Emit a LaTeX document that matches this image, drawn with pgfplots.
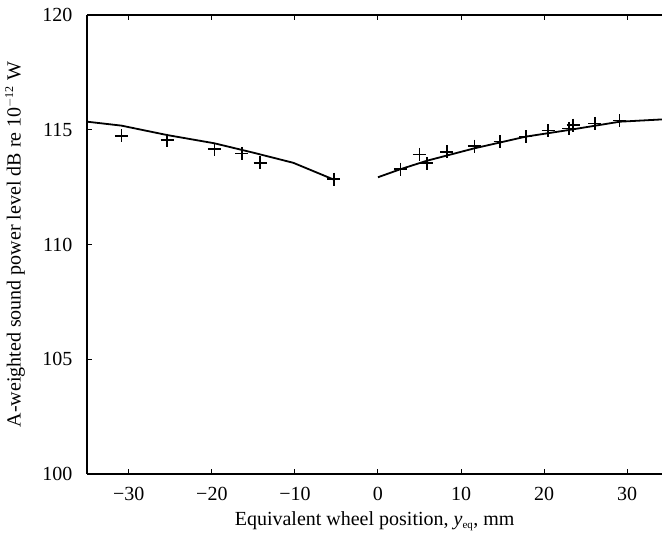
\documentclass[border=0pt]{standalone}
\usepackage{pgfplots}
\pgfplotsset{compat=1.18}
\usepackage{fontspec}
\setmainfont{Liberation Serif}
\begin{document}
\fontsize{20}{24}\selectfont
\begin{tikzpicture}
\path[use as bounding box] (-87.3pt,-61pt) rectangle (574.7pt,474pt);
\begin{axis}[
  scale only axis,
  width=574.7pt, height=459pt,
  xmin=-35, xmax=34.2,
  ymin=100, ymax=120,
  axis x line=box,
  axis y line=left,
  axis line style={line width=1.6pt, -},
  tick align=inside,
  major tick length=5pt,
  tick style={line width=1pt, black},
  xtick={-30,-20,...,30},
  xticklabels={−30,−20,−10,0,10,20,30},
  ytick={100,105,...,120},
  yticklabels={100,105,110,115,120},
  ticklabel style={font=\fontsize{20}{24}\selectfont},
  xticklabel style={yshift=-6pt},
  yticklabel style={xshift=-8pt},
  label style={font=\fontsize{20}{24}\selectfont},
  xlabel={Equivalent wheel position, \textit{y}\textsubscript{\fontsize{11}{12}\selectfont eq}, mm},
  ylabel={A-weighted sound power level dB re 10\textsuperscript{\fontsize{12}{12}\selectfont $-$12} W},
  xlabel style={yshift=2pt},
  ylabel style={yshift=4pt},
  clip=false,
]
\addplot[black, line width=1.8pt] coordinates {
(-35,115.35) (-30.9,115.18) (-25.4,114.77) (-19.7,114.41) (-15,114.0) (-10.2,113.56) (-5.4,112.84)
};
\addplot[black, line width=1.8pt] coordinates {
(0,112.93) (2.7,113.28) (5.9,113.65) (11.6,114.19) (17.8,114.70) (23.0,114.99) (29.1,115.35) (34.2,115.45)
};
\addplot[black, only marks, mark=+, mark size=6.5pt, mark options={line width=1.6pt}] coordinates {
(-30.9,114.73) (-25.4,114.55) (-19.7,114.15) (-16.4,113.97) (-14.2,113.56) (-5.3,112.85)
(2.7,113.28) (5.0,113.93) (5.9,113.54) (8.3,114.04) (11.6,114.29) (14.7,114.48) (17.8,114.70)
(20.5,114.96) (23.0,115.06) (23.5,115.2) (26.1,115.28) (29.1,115.4)
};
\end{axis}
\end{tikzpicture}
\end{document}
